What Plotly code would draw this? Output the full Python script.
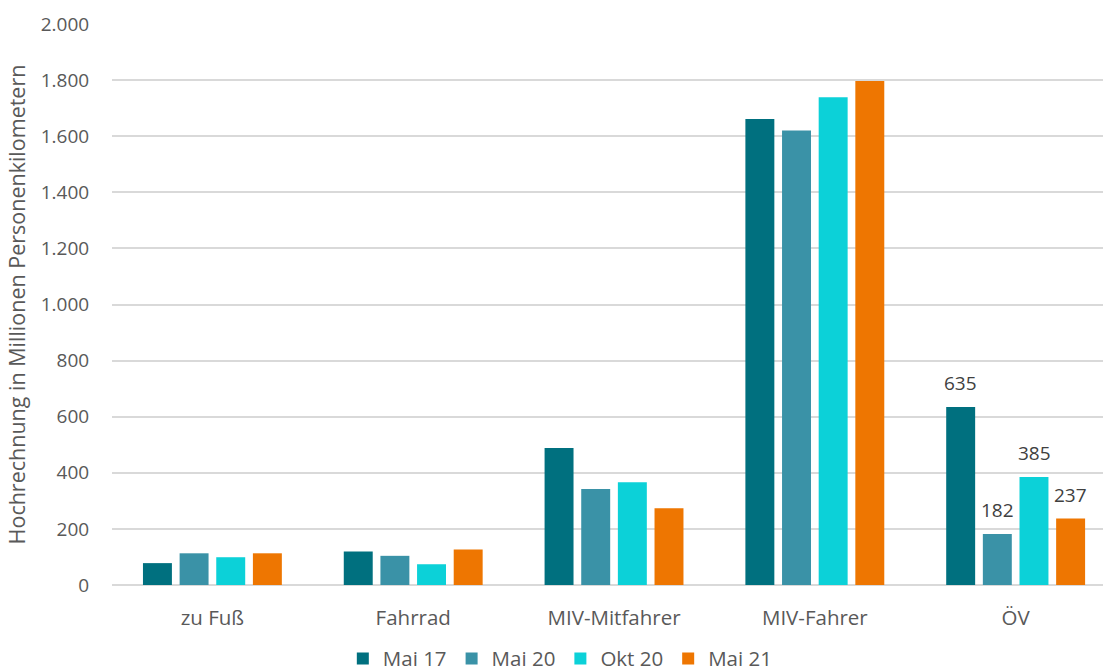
import plotly.graph_objects as go

categories = ["zu Fuß", "Fahrrad", "MIV-Mitfahrer", "MIV-Fahrer", "ÖV"]
series_names = ["Mai 17", "Mai 20", "Okt 20", "Mai 21"]
mai17 = [78, 119, 488, 1661, 635]
mai20 = [113, 104, 342, 1620, 182]
okt20 = [99, 74, 366, 1739, 385]
mai21 = [113, 127, 274, 1797, 237]
colors = ["#00707F", "#3A92A7", "#0CD1D8", "#EE7601"]
y_tickvals = [0, 200, 400, 600, 800, 1000, 1200, 1400, 1600, 1800, 2000]
y_ticktext = ["0", "200", "400", "600", "800", "1.000", "1.200", "1.400", "1.600", "1.800", "2.000"]
y_title = "Hochrechnung in Millionen Personenkilometern"
labelled_category = "ÖV"

FONT = "Open Sans"
TXT = "#595959"
FS_NUM = 19
FS_TXT = 20.5
FS_TITLE = 21.5

series = [mai17, mai20, okt20, mai21]

fig = go.Figure()
for name, vals, col in zip(series_names, series, colors):
    fig.add_trace(go.Bar(
        x=categories, y=vals, name=name,
        marker=dict(color=col, line=dict(width=0)),
    ))

# data labels for the ÖV group
idx = categories.index(labelled_category)
pitch = 36.7
for i, vals in enumerate(series):
    fig.add_annotation(
        x=labelled_category, y=vals[idx], xref="x", yref="y",
        text=str(vals[idx]), showarrow=False,
        xshift=(i - 1.5) * pitch, yshift=24,
        font=dict(family=FONT, size=FS_NUM, color="#404040"),
    )

fig.update_layout(
    width=1103, height=672,
    margin=dict(l=112, r=0, t=24, b=87),
    paper_bgcolor="white", plot_bgcolor="white",
    barmode="group", bargap=0.27, bargroupgap=0.21,
    font=dict(family=FONT, size=FS_NUM, color=TXT),
    showlegend=True,
    legend=dict(
        orientation="h", xref="container", x=0.508, xanchor="center",
        yref="container", y=0.02, yanchor="middle",
        font=dict(family=FONT, size=FS_TXT, color=TXT),
        itemwidth=30, traceorder="normal",
    ),
    xaxis=dict(
        range=[-0.5, 4.435],
        showgrid=False, zeroline=False, showline=False,
        ticks="outside", ticklen=14, tickcolor="rgba(0,0,0,0)",
        tickfont=dict(family=FONT, size=FS_TXT, color=TXT),
        fixedrange=True,
    ),
    yaxis=dict(
        range=[0, 2000],
        tickvals=y_tickvals, ticktext=y_ticktext,
        showgrid=True, gridcolor="#D9D9D9", gridwidth=1.5,
        zeroline=True, zerolinecolor="#D9D9D9", zerolinewidth=1.5,
        showline=False,
        ticks="outside", ticklen=18, tickcolor="rgba(0,0,0,0)",
        tickfont=dict(family=FONT, size=FS_NUM, color=TXT),
        title=dict(text=y_title, font=dict(family=FONT, size=FS_TITLE, color=TXT), standoff=9),
        automargin=False,
    ),
)

fig.write_html("out.html")
